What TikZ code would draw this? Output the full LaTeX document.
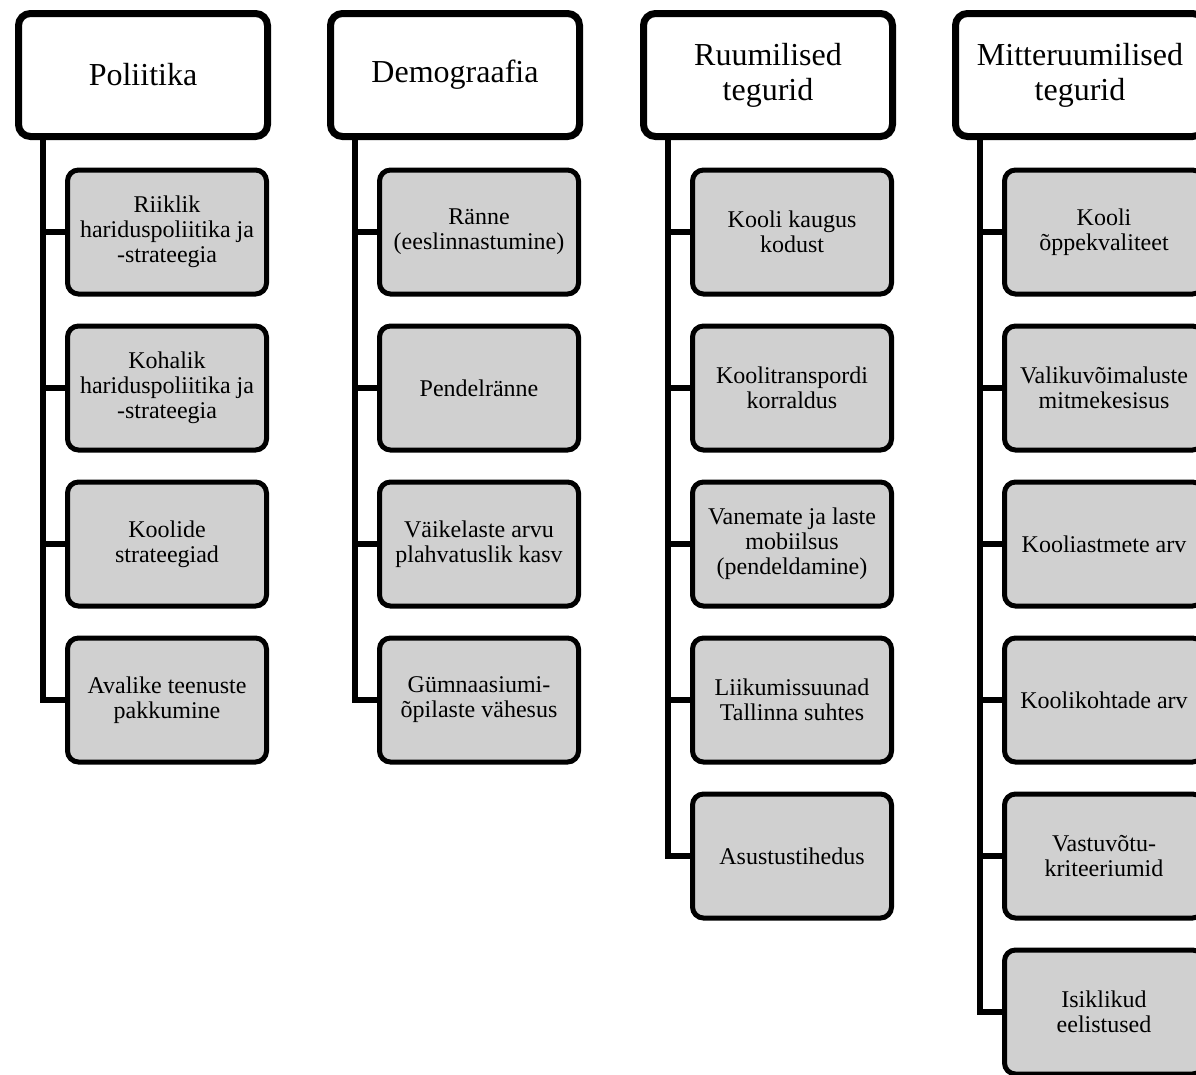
\documentclass[tikz,border=0pt]{standalone}
\usepackage{fontspec}
\setmainfont{Liberation Serif}
\usetikzlibrary{shadows}
\definecolor{boxgray}{RGB}{208,208,208}
\begin{document}
\begin{tikzpicture}[x=1pt,y=-1pt,
	header/.style={draw, line width=7pt, rounded corners=12pt, fill=white,
		minimum width=249pt, minimum height=123pt, inner sep=0pt, align=center,
		font=\fontsize{32}{35}\selectfont,
		drop shadow={shadow xshift=2pt, shadow yshift=-2pt, opacity=.3}},
	item/.style={draw, line width=5pt, rounded corners=11pt, fill=boxgray,
		minimum width=199pt, minimum height=124pt, inner sep=0pt, align=center,
		font=\fontsize{24}{25}\selectfont},
	conn/.style={draw, line width=5.5pt}]
	\useasboundingbox (0,0) rectangle (1196,1074);
	% headers
	\node[header] (pol) at (143,75) {Poliitika};
	\node[header] (dem) at (455,75) {Demograafia};
	\node[header] (ruum) at (768,75) {Ruumilised\\tegurid};
	\node[header] (mitte) at (1080,75) {Mitteruumilised\\tegurid};
	% Poliitika
	\node[item] (pol1) at (167,232) {Riiklik\\hariduspoliitika ja\\-strateegia};
	\node[item] (pol2) at (167,388) {Kohalik\\hariduspoliitika ja\\-strateegia};
	\node[item] (pol3) at (167,544) {Koolide\\strateegiad};
	\node[item] (pol4) at (167,700) {Avalike teenuste\\pakkumine};
	% Demograafia
	\node[item] (dem1) at (479,232) {Ränne\\(eeslinnastumine)};
	\node[item] (dem2) at (479,388) {Pendelränne};
	\node[item] (dem3) at (479,544) {Väikelaste arvu\\plahvatuslik kasv};
	\node[item] (dem4) at (479,700) {Gümnaasiumi-\\õpilaste vähesus};
	% Ruumilised tegurid
	\node[item] (ruum1) at (792,232) {Kooli kaugus\\kodust};
	\node[item] (ruum2) at (792,388) {Koolitranspordi\\korraldus};
	\node[item] (ruum3) at (792,544) {Vanemate ja laste\\mobiilsus\\(pendeldamine)};
	\node[item] (ruum4) at (792,700) {Liikumissuunad\\Tallinna suhtes};
	\node[item] (ruum5) at (792,856) {Asustustihedus};
	% Mitteruumilised tegurid
	\node[item] (mitte1) at (1104,232) {Kooli\\õppekvaliteet};
	\node[item] (mitte2) at (1104,388) {Valikuvõimaluste\\mitmekesisus};
	\node[item] (mitte3) at (1104,544) {Kooliastmete arv};
	\node[item] (mitte4) at (1104,700) {Koolikohtade arv};
	\node[item] (mitte5) at (1104,856) {Vastuvõtu-\\kriteeriumid};
	\node[item] (mitte6) at (1104,1012) {Isiklikud\\eelistused};
	% connector lines
	\coordinate (polx) at (43,0);
	\coordinate (demx) at (355,0);
	\coordinate (ruumx) at (668,0);
	\coordinate (mittex) at (980,0);
	\draw[conn] (pol.south -| polx) |- (pol4.west);
	\draw[conn] (pol1.west) -- (pol1.west -| polx);
	\draw[conn] (pol2.west) -- (pol2.west -| polx);
	\draw[conn] (pol3.west) -- (pol3.west -| polx);
	\draw[conn] (dem.south -| demx) |- (dem4.west);
	\draw[conn] (dem1.west) -- (dem1.west -| demx);
	\draw[conn] (dem2.west) -- (dem2.west -| demx);
	\draw[conn] (dem3.west) -- (dem3.west -| demx);
	\draw[conn] (ruum.south -| ruumx) |- (ruum5.west);
	\draw[conn] (ruum1.west) -- (ruum1.west -| ruumx);
	\draw[conn] (ruum2.west) -- (ruum2.west -| ruumx);
	\draw[conn] (ruum3.west) -- (ruum3.west -| ruumx);
	\draw[conn] (ruum4.west) -- (ruum4.west -| ruumx);
	\draw[conn] (mitte.south -| mittex) |- (mitte6.west);
	\draw[conn] (mitte1.west) -- (mitte1.west -| mittex);
	\draw[conn] (mitte2.west) -- (mitte2.west -| mittex);
	\draw[conn] (mitte3.west) -- (mitte3.west -| mittex);
	\draw[conn] (mitte4.west) -- (mitte4.west -| mittex);
	\draw[conn] (mitte5.west) -- (mitte5.west -| mittex);
\end{tikzpicture}
\end{document}
